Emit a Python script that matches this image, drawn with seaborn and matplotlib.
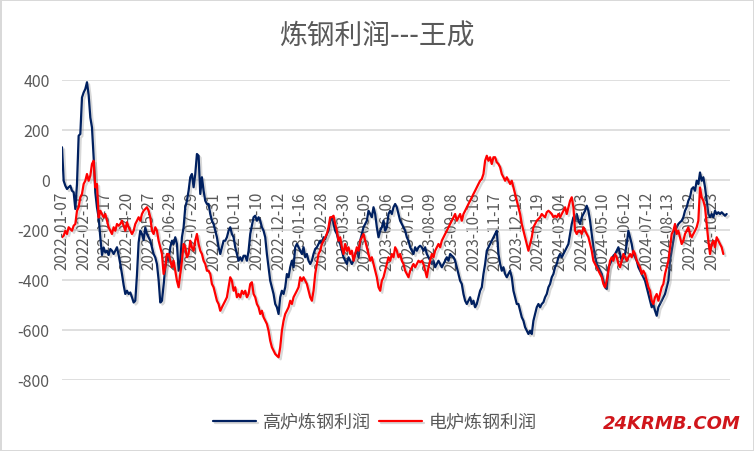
import numpy as np
import pandas as pd
import matplotlib
matplotlib.use("Agg")
import matplotlib.pyplot as plt
import matplotlib.patheffects as pe
import seaborn as sns

# tick labels of the category axis (one label every 13 samples)
date_labels = ['2022-01-07', '2022-02-15', '2022-03-17', '2022-04-20', '2022-05-27',
               '2022-06-29', '2022-07-29', '2022-08-31', '2022-10-11', '2022-11-10',
               '2022-12-12', '2023-01-16', '2023-02-28', '2023-03-30', '2023-05-05',
               '2023-06-06', '2023-07-10', '2023-08-09', '2023-09-08', '2023-10-18',
               '2023-11-17', '2023-12-19', '2024-01-19', '2024-03-04', '2024-04-03',
               '2024-05-10', '2024-06-12', '2024-07-12', '2024-08-13', '2024-09-12',
               '2024-10-23']
label_step = 13

series_names = ['高炉炼钢利润', '电炉炼钢利润']
series_colors = ['#002060', '#ff0000']

# 高炉炼钢利润
blast_furnace = [
    131, -3, -23, -36, -29, -23, -43, -49, -116, -16,
    177, 184, 330, 350, 364, 391, 340, 250, 210, 90,
    -50, -110, -150, -229, -300, -270, -290, -283, -300, -276,
    -283, -296, -283, -269, -300, -336, -376, -420, -456, -443,
    -456, -450, -469, -490, -483, -380, -250, -203, -216, -240,
    -190, -216, -230, -243, -270, -296, -310, -336, -400, -490,
    -483, -420, -350, -300,
    -323, -269, -243, -256, -229, -256, -363, -323, -229, -189,
    -109, -83, -43, 11, 24, -29, 24, 104, 97, -56,
    11, -43, -83, -96, -96, -136, -163, -176, -203, -229,
    -269, -296, -269, -243, -243, -229, -203, -189, -216, -229,
    -269, -296, -323, -309, -323, -303, -303, -323, -283, -216,
    -183, -149, -143, -163, -149, -163, -189, -203, -229, -296,
    -349, -403, -429, -456, -496, -509,
    -536, -469, -443, -456, -429, -376, -389, -349, -323, -349,
    -269, -256, -269, -283, -296, -269, -309, -296, -323, -336,
    -323, -296, -276, -269, -256, -243, -256, -229, -236, -216,
    -203, -163, -149, -176, -203, -216, -243, -256, -283, -309,
    -323, -336, -309, -323, -336, -323, -296, -283, -309, -243,
    -216, -189, -176, -163, -123, -136, -149, -109, -136, -189,
    -229, -203, -189, -163, -203, -189,
    -136, -123, -136, -109, -96, -109, -136, -163, -176, -189,
    -203, -229, -243, -269, -283, -296, -269, -283, -269, -263,
    -269, -283, -269, -296, -309, -323, -336, -323, -349, -336,
    -323, -336, -349, -336, -323, -309, -323, -296, -303, -309,
    -323, -349, -376, -403, -416, -456, -483, -496, -483, -469,
    -496, -483, -509, -496, -469, -443, -429, -376, -336, -283,
    -269, -256, -243, -229, -216, -203,
    -296, -336, -363, -349, -376, -389, -376, -363, -389, -443,
    -469, -496, -496, -523, -549, -563, -589, -603, -616, -603,
    -616, -563, -536, -509, -496, -509, -496, -489, -469, -456,
    -429, -416, -389, -376, -349, -336, -309, -296, -309, -296,
    -283, -269, -256, -216, -176, -149, -163, -136, -163, -176,
    -149, -136, -123, -103, -123, -163, -216, -269, -309, -336,
    -349, -363, -376, -403, -429, -436,
    -349, -336, -323, -303, -296, -283, -269, -296, -323, -309,
    -296, -256, -203, -229, -256, -296, -309, -323, -349, -363,
    -376, -389, -403, -429, -456, -483, -509, -496, -523, -543,
    -509, -496, -483, -469, -456, -429, -403, -323, -283, -243,
    -203, -189, -176, -169, -163, -149, -123, -109, -83, -69,
    -36, -29, -43, -3, -16, 30, -3, 11, -29, -83,
    -136, -149, -136, -149, -123, -136, -129, -136, -129, -136,
    -143, -136,
]

# 电炉炼钢利润
electric_furnace = [
    -229, -223, -203, -216, -189, -196, -203, -183, -176, -123,
    -109, -69, -56, -16, -3, 24, -3, 17, 64, 77,
    -30, -16, -150, -123, -136, -149, -136, -163, -189, -203,
    -216, -189, -203, -176, -183, -176, -163, -183, -203, -169,
    -189, -203, -216, -203, -176, -163, -149, -163, -136, -123,
    -116, -109, -123, -149, -203, -216, -189, -203, -243, -269,
    -296, -376, -349, -296,
    -296, -323, -349, -323, -363, -403, -429, -376, -323, -256,
    -269, -309, -296, -243, -270, -283, -243, -216, -256, -283,
    -296, -323, -336, -363, -363, -376, -416, -429, -456, -483,
    -496, -523, -509, -496, -483, -469, -429, -389, -403, -443,
    -429, -469, -456, -469, -443, -456, -443, -469, -456, -416,
    -409, -456, -469, -496, -509, -536, -523, -549, -563, -576,
    -603, -643, -669, -683, -696, -703,
    -709, -669, -603, -563, -536, -523, -509, -483, -496, -469,
    -456, -443, -429, -389, -403, -389, -403, -416, -443, -469,
    -483, -443, -376, -336, -296, -283, -256, -243, -229, -216,
    -189, -149, -149, -143, -176, -203, -243, -229, -269, -296,
    -256, -283, -269, -296, -283, -323, -296, -269, -283, -243,
    -229, -216, -243, -269, -296, -323, -309, -336, -363, -389,
    -429, -443, -403, -389, -363, -336,
    -309, -323, -296, -309, -269, -283, -309, -296, -323, -336,
    -363, -376, -389, -363, -349, -336, -349, -336, -323, -329,
    -323, -336, -363, -389, -349, -323, -296, -309, -283, -269,
    -256, -269, -243, -229, -216, -203, -189, -176, -163, -149,
    -136, -163, -149, -136, -163, -136, -123, -109, -96, -83,
    -69, -56, -43, -29, -16, -3, 4, 24, 77, 97,
    77, 91, 64, 91, 91, 71,
    64, 51, 24, 11, -3, 11, -3, -16, -3, -29,
    -56, -83, -109, -136, -176, -203, -229, -256, -283, -256,
    -229, -189, -176, -163, -156, -149, -136, -143, -149, -129,
    -123, -129, -136, -149, -143, -149, -136, -149, -136, -123,
    -109, -136, -109, -83, -69, -109, -203, -216, -203, -203,
    -216, -189, -203, -216, -229, -256, -283, -323, -336, -349,
    -363, -376, -389, -416, -429, -403,
    -363, -323, -309, -323, -296, -309, -336, -349, -323, -296,
    -309, -323, -309, -296, -309, -283, -296, -323, -336, -349,
    -376, -363, -376, -403, -429, -443, -483, -496, -469, -456,
    -483, -456, -429, -416, -376, -349, -323, -269, -216, -203,
    -176, -216, -203, -229, -256, -243, -216, -203, -189, -216,
    -229, -216, -203, -189, -163, -30, -69, -83, -109, -176,
    -243, -296, -256, -243, -269, -229, -243, -256, -269, -296,
]

y_ticks = [400, 200, 0, -200, -400, -600, -800]

df = pd.concat([
    pd.DataFrame({'idx': np.arange(len(blast_furnace)), 'value': blast_furnace,
                  'series': series_names[0]}),
    pd.DataFrame({'idx': np.arange(len(electric_furnace)), 'value': electric_furnace,
                  'series': series_names[1]}),
], ignore_index=True)

sns.set_style('white')
plt.rcParams['font.family'] = ['Noto Sans CJK SC', 'DejaVu Sans']
text_grey = '#595959'
grid_grey = '#d9d9d9'

fig = plt.figure(figsize=(7.54, 4.52), dpi=100, facecolor='white',
                 edgecolor=grid_grey, linewidth=2)
ax = fig.add_axes([62 / 754, 1 - 381 / 452, 668 / 754, 300 / 452])

shadow = [pe.SimpleLineShadow(offset=(1.5, -1.5), shadow_color='#808080', alpha=0.3),
          pe.Normal()]
sns.lineplot(data=df, x='idx', y='value', hue='series', hue_order=series_names,
             palette=dict(zip(series_names, series_colors)), linewidth=1.6,
             legend=False, ax=ax, zorder=3, path_effects=shadow)

# category axis crosses at 0, its labels hang below it
# (set before the ticks: moving the spine rebuilds the tick objects)
ax.spines['bottom'].set_position(('data', 0))
for s in ax.spines.values():
    s.set_visible(False)

ax.set_ylim(-800, 400)
ax.set_xlim(0, 401)
ax.set_yticks(y_ticks)
ax.set_yticklabels([str(v) for v in y_ticks])
ax.set_xticks(np.arange(len(date_labels)) * label_step)
ax.set_xticklabels(date_labels)
ax.set_xlabel('')
ax.set_ylabel('')

ax.yaxis.grid(True, color=grid_grey, linewidth=1.2)
ax.xaxis.grid(False)
ax.tick_params(axis='x', length=0, pad=8, labelsize=11, labelcolor=text_grey,
               labelrotation=90)
ax.tick_params(axis='y', length=0, pad=9, labelsize=11.5, labelcolor=text_grey)

fig.text(0.5, 1 - 37 / 452, '炼钢利润---王成', ha='center', va='center',
         fontsize=20, fontweight='light', color=text_grey)

handles = ax.get_lines()[:2]
fig.legend(handles, series_names, loc='center', bbox_to_anchor=(375 / 754, 1 - 423 / 452),
           ncol=2, frameon=False, fontsize=13, handlelength=2.4, handletextpad=0.4,
           columnspacing=0.4, labelcolor=text_grey)

fig.text(741 / 754, 1 - 424 / 452, '24KRMB.COM', ha='right', va='center', fontsize=13,
         color='#d0161b', fontweight='bold', fontstyle='italic', family='DejaVu Sans')

fig.savefig('out.png', dpi=100, facecolor='white', edgecolor=grid_grey)
